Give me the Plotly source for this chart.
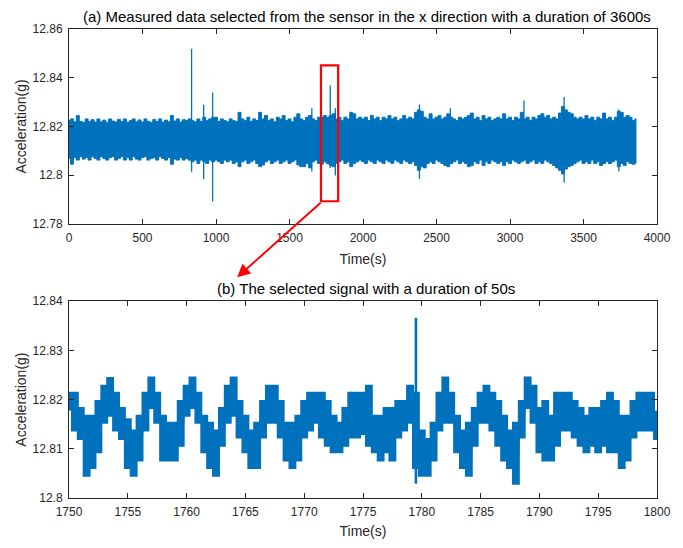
import plotly.graph_objects as go

# ---------------- (a) full record: envelope per 20 s bin ----------------
bin_start_s = 0
bin_step_s = 20
upper_g = [
    12.8224, 12.8231, 12.8219, 12.8245, 12.8221, 12.8217, 12.8231, 12.8220, 12.8228, 12.8218,
    12.8231, 12.8219, 12.8226, 12.8217, 12.8231, 12.8222, 12.8218, 12.8229, 12.8220, 12.8231,
    12.8217, 12.8224, 12.8231, 12.8219, 12.8227, 12.8218, 12.8231, 12.8221, 12.8217, 12.8229,
    12.8220, 12.8231, 12.8218, 12.8226, 12.8219, 12.8245, 12.8222, 12.8231, 12.8218, 12.8228,
    12.8224, 12.8231, 12.8224, 12.8219, 12.8231, 12.8221, 12.8238, 12.8224, 12.8231, 12.8238,
    12.8238, 12.8221, 12.8231, 12.8224, 12.8219, 12.8231, 12.8224, 12.8221, 12.8258, 12.8231,
    12.8224, 12.8238, 12.8221, 12.8231, 12.8224, 12.8258, 12.8231, 12.8245, 12.8224, 12.8231,
    12.8219, 12.8238, 12.8231, 12.8245, 12.8224, 12.8231, 12.8219, 12.8238, 12.8252, 12.8231,
    12.8224, 12.8238, 12.8245, 12.8231, 12.8224, 12.8238, 12.8238, 12.8245, 12.8238, 12.8245,
    12.8252, 12.8231, 12.8238, 12.8224, 12.8238, 12.8231, 12.8258, 12.8252, 12.8231, 12.8238,
    12.8231, 12.8238, 12.8224, 12.8245, 12.8231, 12.8238, 12.8224, 12.8238, 12.8231, 12.8245,
    12.8231, 12.8238, 12.8224, 12.8231, 12.8245, 12.8231, 12.8238, 12.8231, 12.8258, 12.8268,
    12.8262, 12.8238, 12.8231, 12.8252, 12.8231, 12.8238, 12.8245, 12.8231, 12.8238, 12.8252,
    12.8238, 12.8231, 12.8224, 12.8238, 12.8231, 12.8238, 12.8245, 12.8255, 12.8231, 12.8238,
    12.8224, 12.8245, 12.8231, 12.8238, 12.8224, 12.8231, 12.8238, 12.8231, 12.8252, 12.8231,
    12.8238, 12.8224, 12.8238, 12.8231, 12.8258, 12.8231, 12.8238, 12.8224, 12.8238, 12.8231,
    12.8245, 12.8252, 12.8238, 12.8245, 12.8231, 12.8238, 12.8231, 12.8255, 12.8282, 12.8268,
    12.8258, 12.8252, 12.8238, 12.8231, 12.8238, 12.8231, 12.8245, 12.8231, 12.8238, 12.8224,
    12.8238, 12.8231, 12.8255, 12.8231, 12.8238, 12.8224, 12.8238, 12.8262, 12.8258, 12.8238,
    12.8245, 12.8238, 12.8224, 12.8231,
]
lower_g = [
    12.8069, 12.8045, 12.8072, 12.8062, 12.8076, 12.8066, 12.8072, 12.8062, 12.8076, 12.8069,
    12.8062, 12.8076, 12.8069, 12.8062, 12.8072, 12.8076, 12.8062, 12.8069, 12.8076, 12.8062,
    12.8072, 12.8062, 12.8076, 12.8066, 12.8062, 12.8072, 12.8076, 12.8062, 12.8069, 12.8072,
    12.8062, 12.8076, 12.8069, 12.8062, 12.8072, 12.8045, 12.8066, 12.8062, 12.8072, 12.8062,
    12.8069, 12.8062, 12.8055, 12.8062, 12.8048, 12.8062, 12.8055, 12.8048, 12.8062, 12.8055,
    12.8062, 12.8055, 12.8048, 12.8062, 12.8055, 12.8062, 12.8048, 12.8055, 12.8035, 12.8055,
    12.8062, 12.8048, 12.8055, 12.8062, 12.8048, 12.8035, 12.8042, 12.8055, 12.8062, 12.8048,
    12.8055, 12.8062, 12.8048, 12.8055, 12.8062, 12.8048, 12.8055, 12.8062, 12.8042, 12.8035,
    12.8035, 12.8048, 12.8030, 12.8055, 12.8062, 12.8048, 12.8045, 12.8055, 12.8048, 12.8040,
    12.8035, 12.8048, 12.8055, 12.8062, 12.8048, 12.8055, 12.8035, 12.8048, 12.8055, 12.8062,
    12.8055, 12.8048, 12.8062, 12.8055, 12.8048, 12.8062, 12.8055, 12.8048, 12.8062, 12.8055,
    12.8048, 12.8062, 12.8055, 12.8048, 12.8062, 12.8055, 12.8048, 12.8055, 12.8040, 12.8020,
    12.8035, 12.8030, 12.8048, 12.8055, 12.8048, 12.8062, 12.8055, 12.8048, 12.8040, 12.8035,
    12.8048, 12.8055, 12.8062, 12.8048, 12.8055, 12.8048, 12.8035, 12.8040, 12.8055, 12.8048,
    12.8062, 12.8040, 12.8055, 12.8048, 12.8062, 12.8055, 12.8048, 12.8055, 12.8040, 12.8055,
    12.8048, 12.8062, 12.8055, 12.8048, 12.8055, 12.8062, 12.8048, 12.8055, 12.8062, 12.8048,
    12.8055, 12.8048, 12.8062, 12.8055, 12.8048, 12.8040, 12.8030, 12.8020, 12.8005, 12.8025,
    12.8035, 12.8040, 12.8048, 12.8055, 12.8062, 12.8048, 12.8055, 12.8048, 12.8062, 12.8048,
    12.8055, 12.8040, 12.8048, 12.8055, 12.8048, 12.8055, 12.8062, 12.8035, 12.8048, 12.8040,
    12.8055, 12.8048, 12.8045, 12.8050,
]
# isolated spikes in the full record
spike_time_s = [834, 916, 977, 1652, 1777, 1812, 2384, 2594, 3095, 3368, 3740]
spike_top_g = [12.8519, 12.8289, 12.8339, 12.8275, 12.8368, 12.8275, 12.8290, 12.8275, 12.8307, 12.8321, 12.8270]
spike_bottom_g = [12.8014, 12.7984, 12.7892, 12.8015, 12.8030, 12.7999, 12.7985, 12.8060, 12.8060, 12.7970, 12.8015]

# ---------------- (b) 50 s excerpt: per 0.5 s high / low ----------------
seg_start_s = 1750.0
seg_step_s = 0.5
seg_high_g = [
    12.8214, 12.8214, 12.8183, 12.8167, 12.8167, 12.8197, 12.8228, 12.8244, 12.8214, 12.8183,
    12.8160, 12.8137, 12.8167, 12.8214, 12.8245, 12.8214, 12.8167, 12.8153, 12.8153, 12.8197,
    12.8228, 12.8245, 12.8214, 12.8167, 12.8153, 12.8137, 12.8183, 12.8228, 12.8245, 12.8197,
    12.8167, 12.8137, 12.8153, 12.8197, 12.8228, 12.8228, 12.8197, 12.8153, 12.8153, 12.8167,
    12.8197, 12.8214, 12.8214, 12.8214, 12.8197, 12.8167, 12.8153, 12.8183, 12.8214, 12.8214,
    12.8214, 12.8228, 12.8167, 12.8167, 12.8183, 12.8183, 12.8197, 12.8197, 12.8228, 12.8214,
    12.8137, 12.8120, 12.8153, 12.8214, 12.8245, 12.8214, 12.8167, 12.8137, 12.8153, 12.8183,
    12.8214, 12.8228, 12.8214, 12.8197, 12.8167, 12.8137, 12.8153, 12.8197, 12.8245, 12.8228,
    12.8183, 12.8197, 12.8167, 12.8214, 12.8214, 12.8214, 12.8197, 12.8183, 12.8167, 12.8183,
    12.8183, 12.8197, 12.8214, 12.8197, 12.8167, 12.8167, 12.8197, 12.8214, 12.8214, 12.8214,
    12.8175,
]
seg_low_g = [
    12.8180, 12.8137, 12.8120, 12.8045, 12.8061, 12.8093, 12.8153, 12.8167, 12.8137, 12.8120,
    12.8061, 12.8045, 12.8076, 12.8137, 12.8183, 12.8153, 12.8076, 12.8076, 12.8076, 12.8106,
    12.8167, 12.8183, 12.8153, 12.8093, 12.8061, 12.8045, 12.8106, 12.8153, 12.8167, 12.8123,
    12.8093, 12.8061, 12.8061, 12.8123, 12.8153, 12.8153, 12.8123, 12.8076, 12.8061, 12.8076,
    12.8123, 12.8137, 12.8153, 12.8123, 12.8106, 12.8093, 12.8093, 12.8106, 12.8123, 12.8123,
    12.8130, 12.8106, 12.8093, 12.8076, 12.8093, 12.8076, 12.8123, 12.8137, 12.8153, 12.8061,
    12.8045, 12.8045, 12.8076, 12.8137, 12.8153, 12.8153, 12.8093, 12.8061, 12.8045, 12.8106,
    12.8153, 12.8153, 12.8137, 12.8106, 12.8076, 12.8061, 12.8029, 12.8123, 12.8183, 12.8153,
    12.8093, 12.8076, 12.8076, 12.8106, 12.8137, 12.8137, 12.8123, 12.8106, 12.8093, 12.8106,
    12.8093, 12.8106, 12.8093, 12.8093, 12.8061, 12.8076, 12.8123, 12.8137, 12.8137, 12.8137,
    12.8120,
]
# the single impulsive spike in the excerpt
seg_spike_time_s = [1779.5]
seg_spike_top_g = [12.8366]
seg_spike_bottom_g = [12.8029]

# ---------------- tick labels ----------------
top_x_ticks = [0, 500, 1000, 1500, 2000, 2500, 3000, 3500, 4000]
top_y_ticks = [12.78, 12.80, 12.82, 12.84, 12.86]
top_y_labels = ["12.78", "12.8", "12.82", "12.84", "12.86"]
bot_x_ticks = [1750, 1755, 1760, 1765, 1770, 1775, 1780, 1785, 1790, 1795, 1800]
bot_y_ticks = [12.80, 12.81, 12.82, 12.83, 12.84]
bot_y_labels = ["12.8", "12.81", "12.82", "12.83", "12.84"]

title_a = "(a) Measured data selected from the sensor in the x direction with a duration of 3600s"
title_b = "(b) The selected signal with a duration of 50s"

BLUE = "#0072BD"
INK = "#262626"
FONT = "Liberation Sans, Arial, sans-serif"

fig = go.Figure()

# --- (a) band ---
bin_t = [bin_start_s + i * bin_step_s for i in range(len(upper_g))]
fig.add_trace(go.Scatter(x=bin_t, y=lower_g, mode="lines", line=dict(color=BLUE, width=1, shape="hvh"),
                         xaxis="x", yaxis="y", showlegend=False, hoverinfo="skip"))
fig.add_trace(go.Scatter(x=bin_t, y=upper_g, mode="lines", line=dict(color=BLUE, width=1, shape="hvh"),
                         fill="tonexty", fillcolor=BLUE,
                         xaxis="x", yaxis="y", showlegend=False, hoverinfo="skip"))
sx, sy = [], []
for t, hi, lo in zip(spike_time_s, spike_top_g, spike_bottom_g):
    sx += [t, t, None]
    sy += [lo, hi, None]
fig.add_trace(go.Scatter(x=sx, y=sy, mode="lines", line=dict(color=BLUE, width=1.3),
                         xaxis="x", yaxis="y", showlegend=False, hoverinfo="skip"))

# --- (b) band between high and low of each 0.5 s slot ---
seg_t = [seg_start_s + i * seg_step_s for i in range(len(seg_high_g))]
fig.add_trace(go.Scatter(x=seg_t, y=seg_low_g, mode="lines", line=dict(color=BLUE, width=2, shape="hvh"),
                         xaxis="x2", yaxis="y2", showlegend=False, hoverinfo="skip"))
fig.add_trace(go.Scatter(x=seg_t, y=seg_high_g, mode="lines", line=dict(color=BLUE, width=2, shape="hvh"),
                         fill="tonexty", fillcolor=BLUE,
                         xaxis="x2", yaxis="y2", showlegend=False, hoverinfo="skip"))
# inner zig-zag texture
zx, zy = [], []
for t, hi, lo in zip(seg_t, seg_high_g, seg_low_g):
    zx += [t - seg_step_s / 4, t + seg_step_s / 4]
    zy += [hi, lo]
zx[0] = seg_start_s
zx, zy = zx[:-1], zy[:-1]
fig.add_trace(go.Scatter(x=zx, y=zy, mode="lines", line=dict(color=BLUE, width=2),
                         xaxis="x2", yaxis="y2", showlegend=False, hoverinfo="skip"))
bx, by = [], []
for t, hi, lo in zip(seg_spike_time_s, seg_spike_top_g, seg_spike_bottom_g):
    bx += [t, t, None]
    by += [lo, hi, None]
fig.add_trace(go.Scatter(x=bx, y=by, mode="lines", line=dict(color=BLUE, width=2.6),
                         xaxis="x2", yaxis="y2", showlegend=False, hoverinfo="skip"))

axis_common = dict(showline=True, linecolor=INK, linewidth=1, mirror="ticks",
                   ticks="inside", ticklen=5, tickcolor=INK, tickwidth=1,
                   showgrid=False, zeroline=False, ticklabelstandoff=3,
                   tickfont=dict(family=FONT, size=12, color=INK))
title_font = dict(family=FONT, size=14, color=INK)

fig.update_layout(
    width=683, height=548,
    margin=dict(l=69, r=16, t=29, b=45),
    paper_bgcolor="white", plot_bgcolor="white",
    font=dict(family=FONT, size=12, color=INK),
    xaxis=dict(domain=[0, 1], range=[0, 4000], tickvals=top_x_ticks, anchor="y",
               title=dict(text="Time(s)", font=title_font, standoff=9),
               **axis_common),
    yaxis=dict(domain=[0.5844, 1], range=[12.78, 12.86], tickvals=top_y_ticks, ticktext=top_y_labels,
               anchor="x",
               title=dict(text="Acceleration(g)", font=title_font, standoff=2),
               **axis_common),
    xaxis2=dict(domain=[0, 1], range=[1750, 1800], tickvals=bot_x_ticks, anchor="y2",
                title=dict(text="Time(s)", font=title_font, standoff=7),
                **axis_common),
    yaxis2=dict(domain=[0, 0.4198], range=[12.80, 12.84], tickvals=bot_y_ticks, ticktext=bot_y_labels,
                anchor="x2",
                title=dict(text="Acceleration(g)", font=title_font, standoff=2),
                **axis_common),
)

fig.add_annotation(text=title_a, xref="paper", yref="paper", x=0.5, y=1.0, yshift=2, xshift=4,
                   xanchor="center", yanchor="bottom", showarrow=False,
                   font=dict(family=FONT, size=15, color="black"))
fig.add_annotation(text=title_b, xref="paper", yref="paper", x=0.5, y=0.4198, yshift=2, xshift=3,
                   xanchor="center", yanchor="bottom", showarrow=False,
                   font=dict(family=FONT, size=15, color="black"))

# red selection box on (a)
fig.add_shape(type="rect", xref="x", yref="y", x0=1714, x1=1831, y0=12.7893, y1=12.8451,
              line=dict(color="#FF0000", width=2.2), fillcolor="rgba(0,0,0,0)")
# red arrow from box to (b)
fig.add_annotation(xref="paper", yref="paper", x=(240 - 69) / 598, y=1 - (280 - 29) / 474,
                   ax=85, ay=-76, axref="pixel", ayref="pixel", text="",
                   showarrow=True, arrowhead=2, arrowsize=1.3, arrowwidth=2, arrowcolor="#FF0000")

fig.write_html("out.html")
